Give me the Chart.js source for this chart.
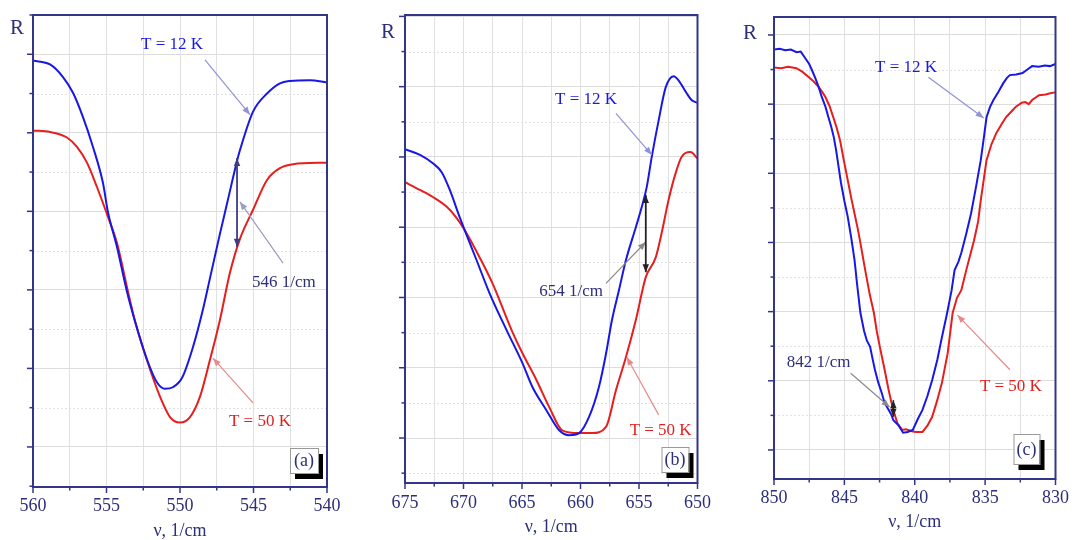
<!DOCTYPE html>
<html>
<head>
<meta charset="utf-8">
<script src="https://cdn.jsdelivr.net/npm/chart.js@4.4.0/dist/chart.umd.min.js"></script>
<style>
  html, body { margin: 0; padding: 0; background: #fff; overflow: hidden; }
  #wrap { position: relative; width: 1077px; height: 540px; }
  #wrap canvas { position: absolute; top: 0; }
</style>
</head>
<body>
<div id="wrap">
  <canvas id="pa" width="360" height="540" style="left:0px"></canvas>
  <canvas id="pb" width="360" height="540" style="left:360px"></canvas>
  <canvas id="pc" width="357" height="540" style="left:720px"></canvas>
</div>
<script>
// ---- panel (a): band near 546 1/cm ----
var aNu12 = [560.0, 558.84, 557.96, 557.28, 556.6, 555.92, 555.24, 554.9, 554.29, 553.61, 553.06, 552.24, 551.56, 551.02, 550.48, 549.86, 549.12, 548.44, 547.96, 547.3, 546.8, 546.12, 545.92, 545.03, 544.08, 543.2, 542.52, 541.16, 540.0];
var aR12  = [4.92, 4.87, 4.71, 4.51, 4.2, 3.82, 3.36, 2.99, 2.55, 1.98, 1.6, 1.11, 0.82, 0.74, 0.76, 0.88, 1.27, 1.75, 2.15, 2.7, 3.1, 3.64, 3.78, 4.27, 4.5, 4.63, 4.66, 4.67, 4.64];
var aNu50 = [560.0, 558.84, 557.69, 557.01, 556.33, 555.65, 554.9, 554.29, 553.54, 553.06, 552.24, 551.36, 550.68, 550.0, 549.32, 548.64, 547.96, 547.28, 546.6, 545.92, 545.03, 544.08, 543.2, 542.31, 540.0];
var aR50  = [4.03, 4.01, 3.94, 3.82, 3.62, 3.31, 2.93, 2.6, 1.98, 1.6, 1.1, 0.64, 0.38, 0.31, 0.38, 0.64, 1.11, 1.62, 2.22, 2.65, 3.02, 3.40, 3.55, 3.60, 3.62];

// ---- panel (b): band near 654 1/cm ----
var bNu12 = [675.0, 673.72, 672.62, 671.85, 671.17, 670.32, 669.9, 668.88, 667.77, 666.33, 664.97, 664.12, 662.93, 661.82, 660.97, 660.12, 659.27, 658.42, 657.82, 657.31, 656.72, 656.12, 655.27, 654.76, 654.34, 653.91, 653.32, 652.72, 652.04, 651.62, 650.94, 650.51, 650.0];
var bR12  = [4.11, 4.03, 3.91, 3.78, 3.53, 3.14, 2.96, 2.53, 2.06, 1.54, 1.07, 0.73, 0.40, 0.11, 0.04, 0.07, 0.30, 0.73, 1.2, 1.68, 2.1, 2.53, 3.0, 3.29, 3.57, 4.0, 4.52, 4.99, 5.15, 5.09, 4.91, 4.81, 4.77];
var bNu50 = [675.0, 673.72, 672.62, 671.43, 670.58, 669.9, 668.62, 667.52, 665.9, 664.97, 663.78, 662.67, 661.56, 660.12, 659.01, 657.82, 656.97, 656.12, 655.27, 654.42, 653.57, 653.06, 652.47, 651.87, 651.36, 650.6, 650.0];
var bR50  = [3.64, 3.53, 3.43, 3.29, 3.13, 2.96, 2.57, 2.2, 1.54, 1.21, 0.83, 0.44, 0.11, 0.07, 0.07, 0.16, 0.68, 1.15, 1.68, 2.29, 2.57, 2.92, 3.39, 3.77, 4.0, 4.07, 3.98];

// ---- panel (c): band near 842 1/cm ----
var cNu12 = [850.0, 849.6, 849.2, 848.8, 848.4, 848.1, 847.8, 847.5, 847.3, 847.05, 846.83, 846.6, 846.34, 846.15, 845.93, 845.75, 845.59, 845.4, 845.24, 845.0, 844.76, 844.5, 844.28, 844.1, 843.86, 843.6, 843.4, 843.17, 843.0, 842.83, 842.6, 842.34, 842.14, 841.86, 841.66, 841.52, 841.17, 840.83, 840.5, 840.14, 839.8, 839.45, 839.1, 838.76, 838.4, 838.07, 837.7, 837.38, 837.17, 836.9, 836.69, 836.35, 836.0, 835.65, 835.31, 835.1, 834.9, 834.65, 834.41, 834.05, 833.72, 833.45, 833.24, 832.8, 832.34, 832.0, 831.66, 831.2, 830.76, 830.4, 830.0];
var cR12  = [5.79, 5.80, 5.78, 5.79, 5.75, 5.76, 5.67, 5.58, 5.49, 5.37, 5.25, 5.10, 4.96, 4.82, 4.67, 4.52, 4.34, 4.08, 3.86, 3.60, 3.37, 3.05, 2.75, 2.40, 1.98, 1.72, 1.58, 1.49, 1.32, 1.16, 0.98, 0.82, 0.68, 0.58, 0.51, 0.43, 0.36, 0.25, 0.26, 0.29, 0.44, 0.58, 0.78, 1.01, 1.30, 1.63, 1.98, 2.31, 2.60, 2.72, 2.85, 3.12, 3.42, 3.80, 4.19, 4.50, 4.81, 4.96, 5.06, 5.18, 5.30, 5.38, 5.42, 5.43, 5.45, 5.50, 5.55, 5.54, 5.56, 5.55, 5.58];
var cNu50 = [850.0, 849.5, 849.0, 848.41, 848.0, 847.52, 847.2, 846.83, 846.55, 846.34, 846.05, 845.79, 845.55, 845.31, 845.05, 844.76, 844.5, 844.28, 844.05, 843.86, 843.52, 843.2, 842.9, 842.7, 842.48, 842.14, 841.86, 841.66, 841.45, 841.24, 840.9, 840.62, 840.2, 839.93, 839.45, 839.1, 838.76, 838.4, 838.07, 837.66, 837.31, 837.0, 836.69, 836.34, 835.79, 835.5, 835.31, 834.9, 834.55, 834.21, 833.8, 833.52, 833.1, 832.83, 832.4, 832.14, 831.9, 831.66, 831.17, 830.7, 830.3, 830.0];
var cR50  = [5.53, 5.52, 5.54, 5.52, 5.47, 5.39, 5.33, 5.25, 5.17, 5.10, 4.97, 4.81, 4.66, 4.48, 4.20, 3.90, 3.63, 3.42, 3.20, 2.99, 2.60, 2.25, 1.98, 1.72, 1.49, 1.16, 0.87, 0.69, 0.53, 0.39, 0.29, 0.30, 0.27, 0.26, 0.26, 0.35, 0.48, 0.72, 0.97, 1.40, 1.98, 2.20, 2.31, 2.60, 3.03, 3.30, 3.61, 4.19, 4.42, 4.58, 4.72, 4.81, 4.90, 4.96, 5.02, 5.03, 5.00, 5.06, 5.13, 5.14, 5.16, 5.17];

var SERIF = "'Liberation Serif', 'Times New Roman', serif";
var NAVY = '#2d2f7a';
var FRAME = '#33358a';
var BLUE = '#1818e6';
var RED = '#e61e1e';

function pts(xs, ys) {
  return xs.map(function (x, i) { return { x: x, y: ys[i] }; });
}

function isMajor(v) { return Math.abs(v - Math.round(v)) < 1e-6; }

function drawArrow(ctx, x1, y1, x2, y2, color, width, both) {
  var ang = Math.atan2(y2 - y1, x2 - x1);
  var hl = 8, hw = 3.2;
  function head(x, y, a) {
    ctx.beginPath();
    ctx.moveTo(x, y);
    ctx.lineTo(x - hl * Math.cos(a) + hw * Math.sin(a), y - hl * Math.sin(a) - hw * Math.cos(a));
    ctx.lineTo(x - hl * Math.cos(a) - hw * Math.sin(a), y - hl * Math.sin(a) + hw * Math.cos(a));
    ctx.closePath();
    ctx.fill();
  }
  ctx.save();
  ctx.strokeStyle = color;
  ctx.fillStyle = color;
  ctx.lineWidth = width;
  ctx.beginPath();
  ctx.moveTo(x1, y1);
  ctx.lineTo(x2, y2);
  ctx.stroke();
  head(x2, y2, ang);
  if (both) head(x1, y1, ang + Math.PI);
  ctx.restore();
}

function makePanel(id, p) {
  var decor = {
    id: 'decor',
    beforeDatasetsDraw: function (chart) {
      // dotted minor grid lines on R
      var ctx = chart.ctx, a = chart.chartArea, y = chart.scales.y;
      ctx.save();
      ctx.strokeStyle = '#e2e2e2';
      ctx.lineWidth = 1;
      ctx.setLineDash([2, 2]);
      for (var v = Math.ceil(p.yMin * 2) / 2; v <= p.yMax; v += 0.5) {
        if (isMajor(v)) continue;
        var py = Math.round(y.getPixelForValue(v)) + 0.5;
        ctx.beginPath(); ctx.moveTo(a.left, py); ctx.lineTo(a.right, py); ctx.stroke();
      }
      ctx.restore();
    },
    afterDraw: function (chart) {
      var ctx = chart.ctx, a = chart.chartArea;
      var x = chart.scales.x, y = chart.scales.y;
      ctx.save();
      // frame
      ctx.strokeStyle = FRAME;
      ctx.lineWidth = 2;
      ctx.strokeRect(a.left, a.top, a.right - a.left, a.bottom - a.top);
      // tick marks
      ctx.lineWidth = 1.5;
      for (var v = p.xMin; v <= p.xMax + 1e-6; v += 2.5) {
        var px = x.getPixelForValue(v);
        var len = (Math.abs(v % 5) < 1e-6) ? 6 : 3.5;
        ctx.beginPath(); ctx.moveTo(px, a.bottom); ctx.lineTo(px, a.bottom + len); ctx.stroke();
      }
      for (var w = Math.ceil(p.yMin * 2) / 2; w <= p.yMax; w += 0.5) {
        var py = y.getPixelForValue(w);
        var l2 = isMajor(w) ? 6 : 3.5;
        ctx.beginPath(); ctx.moveTo(a.left, py); ctx.lineTo(a.left - l2, py); ctx.stroke();
      }
      // "R"
      ctx.fillStyle = NAVY;
      ctx.font = '21px ' + SERIF;
      ctx.textAlign = 'center';
      ctx.textBaseline = 'middle';
      ctx.fillText('R', a.left + p.rLabel[0], a.top + p.rLabel[1]);
      // arrows
      p.arrows.forEach(function (ar) {
        drawArrow(ctx, x.getPixelForValue(ar[0]), y.getPixelForValue(ar[1]),
                  x.getPixelForValue(ar[2]), y.getPixelForValue(ar[3]), ar[4], ar[5], ar[6]);
      });
      // texts
      ctx.font = '17px ' + SERIF;
      p.notes.forEach(function (n) {
        ctx.fillStyle = n[3];
        ctx.fillText(n[0], x.getPixelForValue(n[1]), y.getPixelForValue(n[2]));
      });
      // panel letter box
      var b = p.box;
      var bx = a.right - b[0] - b[2], by = a.bottom - b[1] - b[3];
      ctx.fillStyle = '#000';
      ctx.fillRect(bx + 5, by + 6, b[2], b[3]);
      ctx.fillStyle = '#fff';
      ctx.fillRect(bx, by, b[2], b[3]);
      ctx.strokeStyle = '#9a9a9a';
      ctx.lineWidth = 1;
      ctx.strokeRect(bx + 0.5, by + 0.5, b[2], b[3]);
      ctx.fillStyle = NAVY;
      ctx.font = '18px ' + SERIF;
      ctx.fillText(p.letter, bx + b[2] / 2, by + b[3] / 2 + 1);
      ctx.restore();
    }
  };

  new Chart(document.getElementById(id), {
    type: 'line',
    data: {
      datasets: [
        { label: 'T = 12 K', data: pts(p.nu12, p.r12), borderColor: BLUE, borderWidth: 2,
          pointRadius: 0, tension: p.smooth ? 0.4 : 0, cubicInterpolationMode: p.smooth ? 'monotone' : 'default' },
        { label: 'T = 50 K', data: pts(p.nu50, p.r50), borderColor: RED, borderWidth: 2,
          pointRadius: 0, tension: p.smooth ? 0.4 : 0, cubicInterpolationMode: p.smooth ? 'monotone' : 'default' }
      ]
    },
    options: {
      responsive: false,
      animation: false,
      layout: { padding: { top: p.top, right: p.right, left: 0, bottom: 0 } },
      plugins: { legend: { display: false }, tooltip: { enabled: false } },
      scales: {
        x: {
          type: 'linear', reverse: true, min: p.xMin, max: p.xMax,
          afterFit: function (s) { s.height = p.xH; },
          ticks: {
            stepSize: 2.5, autoSkip: false, maxRotation: 0, padding: p.tickPad,
            color: NAVY, font: { family: SERIF, size: 18 },
            callback: function (v) { return Math.abs(v % 5) < 1e-6 ? String(v) : ''; }
          },
          grid: { color: '#e0e0e0', lineWidth: 1, drawTicks: false },
          border: { color: FRAME, width: 2 },
          title: { display: true, text: 'ν, 1/cm', color: NAVY,
                   font: { family: SERIF, size: 18, lineHeight: 1 }, padding: { top: 0, bottom: p.titlePad } }
        },
        y: {
          min: p.yMin, max: p.yMax,
          afterFit: function (s) { s.width = p.yW; },
          ticks: { display: false, stepSize: 0.5, includeBounds: false },
          grid: {
            drawTicks: false, lineWidth: 1,
            color: function (c) { return c.tick && isMajor(c.tick.value) ? '#dcdcdc' : 'rgba(0,0,0,0)'; }
          },
          border: { color: FRAME, width: 2 }
        }
      }
    },
    plugins: [decor]
  });
}

makePanel('pa', {
  nu12: aNu12, r12: aR12, nu50: aNu50, r50: aR50, smooth: true,
  xMin: 540, xMax: 560, yMin: -0.51, yMax: 5.5,
  yW: 33, right: 33, top: 15, xH: 53, tickPad: 8, titlePad: 0,
  rLabel: [-16, 13], letter: '(a)', box: [9, 14, 28, 25],
  notes: [['T = 12 K', 550.54, 5.12, BLUE], ['546 1/cm', 542.93, 2.09, NAVY], ['T = 50 K', 544.56, 0.32, RED]],
  arrows: [[548.30, 4.93, 545.24, 4.23, '#9092d6', 1.2, false],
           [546.12, 2.55, 546.12, 3.68, '#3b3d85', 1.8, true],
           [542.99, 2.34, 545.92, 3.12, '#9c9cc4', 1.2, false],
           [545.03, 0.56, 547.76, 1.13, '#e58a8a', 1.2, false]]
});

makePanel('pb', {
  nu12: bNu12, r12: bR12, nu50: bNu50, r50: bR50, smooth: true,
  xMin: 650, xMax: 675, yMin: -0.64, yMax: 6.02,
  yW: 45, right: 21, top: 15, xH: 57, tickPad: 9, titlePad: 4,
  rLabel: [-17, 17], letter: '(b)', box: [9, 11, 27, 25],
  notes: [['T = 12 K', 659.52, 4.81, BLUE], ['654 1/cm', 660.80, 2.09, NAVY], ['T = 50 K', 653.15, 0.11, RED]],
  arrows: [[656.97, 4.62, 653.91, 4.03, '#9092d6', 1.2, false],
           [657.82, 2.20, 654.42, 2.79, '#8a8a8a', 1.2, false],
           [654.42, 2.36, 654.42, 3.46, '#222222', 1.8, true],
           [653.32, 0.33, 656.04, 1.15, '#e58a8a', 1.2, false]]
});

makePanel('pc', {
  nu12: cNu12, r12: cR12, nu50: cNu50, r50: cR50, smooth: false,
  xMin: 830, xMax: 850, yMin: -0.42, yMax: 6.26,
  yW: 54, right: 13, top: 17, xH: 61, tickPad: 8, titlePad: 9,
  rLabel: [-24, 16], letter: '(c)', box: [16, 15, 26, 30],
  notes: [['T = 12 K', 840.62, 5.53, BLUE], ['842 1/cm', 846.83, 1.26, NAVY], ['T = 50 K', 833.17, 0.91, RED]],
  arrows: [[839.03, 5.39, 835.10, 4.80, '#9092d6', 1.2, false],
           [844.55, 1.11, 841.79, 0.62, '#8a8a8a', 1.2, false],
           [841.52, 0.48, 841.52, 0.72, '#222222', 1.5, true],
           [833.24, 1.16, 836.97, 1.95, '#e58a8a', 1.2, false]]
});
</script>
</body>
</html>
